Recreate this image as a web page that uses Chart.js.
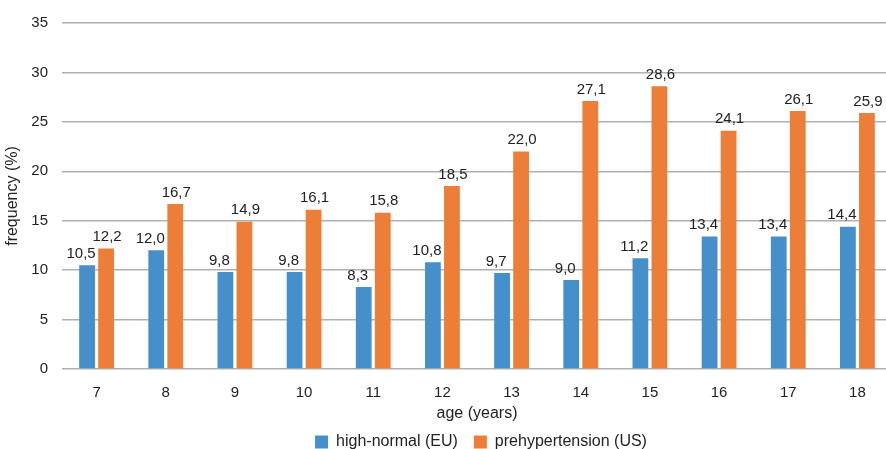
<!DOCTYPE html>
<html lang="en">
<head>
    <meta charset="UTF-8">
    <title>frequency by age</title>
    <style>
        html, body { margin: 0; padding: 0; background: #fff; overflow: hidden; }
        .chart-container { position: relative; width: 894px; height: 449px; }
    </style>
</head>
<body>
    <div class="chart-container">
        <canvas id="ageChart"></canvas>
    </div>
    <script src="https://cdn.jsdelivr.net/npm/chart.js"></script>
    <script>
        const ages = ["7", "8", "9", "10", "11", "12", "13", "14", "15", "16", "17", "18"];
        const highNormalEU = [10.5, 12.0, 9.8, 9.8, 8.3, 10.8, 9.7, 9.0, 11.2, 13.4, 13.4, 14.4];
        const prehypertensionUS = [12.2, 16.7, 14.9, 16.1, 15.8, 18.5, 22.0, 27.1, 28.6, 24.1, 26.1, 25.9];
        const yTicks = [0, 5, 10, 15, 20, 25, 30, 35];

        const textColor = "#222";
        const family = "'Liberation Sans', Arial, sans-serif";
        const tickFont = { family: family, size: 15 };
        const titleFont = { family: family, size: 16 };

        // value labels above each bar, decimal comma
        const barLabels = {
            id: "barLabels",
            afterDatasetsDraw(chart) {
                const ctx = chart.ctx;
                ctx.save();
                ctx.font = "15px " + family;
                ctx.fillStyle = textColor;
                ctx.textAlign = "center";
                ctx.textBaseline = "bottom";
                chart.data.datasets.forEach((ds, i) => {
                    const shift = i === 0 ? -6 : 1;
                    chart.getDatasetMeta(i).data.forEach((bar, j) => {
                        const txt = ds.data[j].toFixed(1).replace(".", ",");
                        ctx.fillText(txt, bar.x + shift, bar.y - 4);
                    });
                });
                ctx.restore();
            }
        };

        // put the legend where it sits in the original
        const legendPlace = {
            id: "legendPlace",
            afterLayout(chart) {
                const lg = chart.legend;
                lg.left += 35;
                lg.right += 35;
                lg.top -= 5;
                lg.bottom -= 5;
            }
        };

        new Chart(document.getElementById("ageChart"), {
            type: "bar",
            data: {
                labels: ages,
                datasets: [
                    {
                        label: "high-normal (EU)",
                        data: highNormalEU,
                        backgroundColor: "#4590cb",
                        barPercentage: 0.83,
                        categoryPercentage: 0.55
                    },
                    {
                        label: "prehypertension (US)",
                        data: prehypertensionUS,
                        backgroundColor: "#ec7e38",
                        barPercentage: 0.83,
                        categoryPercentage: 0.55
                    }
                ]
            },
            options: {
                responsive: true,
                maintainAspectRatio: false,
                animation: false,
                layout: { padding: { top: 21, right: 2, bottom: -16, left: 0 } },
                scales: {
                    x: {
                        grid: { display: false, drawTicks: false },
                        border: { display: false },
                        ticks: { color: textColor, font: tickFont, padding: 15 },
                        title: {
                            display: true,
                            text: "age (years)",
                            color: textColor,
                            font: titleFont,
                            padding: { top: 0, bottom: 0 }
                        },
                        afterFit(scale) { scale.height = 54; }
                    },
                    y: {
                        min: 0,
                        max: 35,
                        afterBuildTicks(scale) { scale.ticks = yTicks.map(v => ({ value: v })); },
                        grid: { color: "#b0b0b0", lineWidth: 1.5, drawTicks: false },
                        border: { display: false },
                        ticks: { color: textColor, font: tickFont, padding: 14 },
                        title: {
                            display: true,
                            text: "frequency (%)",
                            color: textColor,
                            font: titleFont,
                            padding: { top: 3, bottom: 0 }
                        },
                        afterFit(scale) { scale.width = 62; }
                    }
                },
                plugins: {
                    legend: {
                        position: "bottom",
                        labels: {
                            color: textColor,
                            font: titleFont,
                            boxWidth: 13,
                            boxHeight: 13,
                            padding: 16
                        }
                    },
                    tooltip: { enabled: false }
                }
            },
            plugins: [barLabels, legendPlace]
        });
    </script>
</body>
</html>
